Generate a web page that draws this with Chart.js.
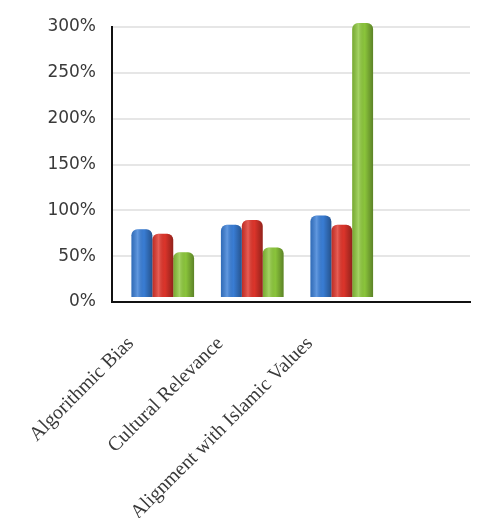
<!DOCTYPE html>
<html>
<head>
<meta charset="utf-8">
<script src="https://cdn.jsdelivr.net/npm/chart.js@4.4.0/dist/chart.umd.min.js"></script>
<style>
  html, body { margin: 0; padding: 0; background: #fff; }
  #wrap { width: 477px; height: 518px; position: relative; }
</style>
</head>
<body>
<div id="wrap"><canvas id="chart"></canvas></div>
<script>
// categories (the 4th slot is empty in the original)
const categories = ['Algorithmic Bias', 'Cultural Relevance', 'Alignment with Islamic Values', ''];
const seriesBlue = [75, 80, 90, null];
const seriesRed = [70, 85, 80, null];
const seriesGreen = [50, 55, 300, null];
const yTicks = [0, 50, 100, 150, 200, 250, 300];

// fake 3D look: small depth offset + cylinder-ish shading over the flat bars
const shadePlugin = {
    id: 'shade',
    beforeDatasetsDraw: function(chart) {
        chart.ctx.save();
        chart.ctx.translate(6, -4);
    },
    afterDatasetsDraw: function(chart) {
        const ctx = chart.ctx;
        chart.data.datasets.forEach(function(ds, i) {
            const meta = chart.getDatasetMeta(i);
            meta.data.forEach(function(el) {
                if (el.skip || el.y == null || isNaN(el.y)) return;
                const w = el.width;
                const left = el.x - w / 2;
                const g = ctx.createLinearGradient(left, 0, left + w, 0);
                g.addColorStop(0, 'rgba(0,0,0,0.15)');
                g.addColorStop(0.3, 'rgba(255,255,255,0.2)');
                g.addColorStop(0.6, 'rgba(0,0,0,0.02)');
                g.addColorStop(1, 'rgba(0,0,0,0.35)');
                ctx.fillStyle = g;
                ctx.beginPath();
                ctx.roundRect(left, el.y, w, el.base - el.y, [6, 6, 0, 0]);
                ctx.fill();
            });
        });
        ctx.restore();
    }
};

const ctx = document.getElementById('chart').getContext('2d');
const chart = new Chart(ctx, {
    type: 'bar',
    data: {
        labels: categories,
        datasets: [{
            label: 'Series 1',
            data: seriesBlue,
            backgroundColor: '#3a7fd8',
            borderRadius: { topLeft: 6, topRight: 6 },
            borderSkipped: 'bottom'
        }, {
            label: 'Series 2',
            data: seriesRed,
            backgroundColor: '#e0352b',
            borderRadius: { topLeft: 6, topRight: 6 },
            borderSkipped: 'bottom'
        }, {
            label: 'Series 3',
            data: seriesGreen,
            backgroundColor: '#8dc83c',
            borderRadius: { topLeft: 6, topRight: 6 },
            borderSkipped: 'bottom'
        }]
    },
    options: {
        responsive: true,
        maintainAspectRatio: false,
        animation: false,
        layout: { padding: { top: 27, right: 7, left: 0, bottom: 0 } },
        datasets: {
            bar: { barPercentage: 1.0, categoryPercentage: 0.7 }
        },
        scales: {
            y: {
                min: 0,
                max: 300,
                afterBuildTicks: function(scale) {
                    scale.ticks = yTicks.map(v => ({ value: v }));
                },
                afterFit: function(scale) { scale.width = 112; },
                ticks: {
                    padding: 16,
                    color: '#3a3a3a',
                    font: { family: 'DejaVu Sans', size: 17 },
                    callback: v => v + '%'
                },
                grid: {
                    color: '#e6e6e6',
                    lineWidth: 2,
                    drawTicks: false
                },
                border: { color: '#111', width: 2 }
            },
            x: {
                afterFit: function(scale) { scale.height = 216; },
                ticks: {
                    minRotation: 45,
                    maxRotation: 45,
                    autoSkip: false,
                    labelOffset: -26,
                    padding: 22,
                    color: '#3a3a3a',
                    font: { family: 'Liberation Serif', size: 20 }
                },
                grid: { display: false },
                border: { color: '#111', width: 2 }
            }
        },
        plugins: {
            legend: { display: false },
            tooltip: { enabled: false }
        }
    },
    plugins: [shadePlugin]
});
</script>
</body>
</html>
